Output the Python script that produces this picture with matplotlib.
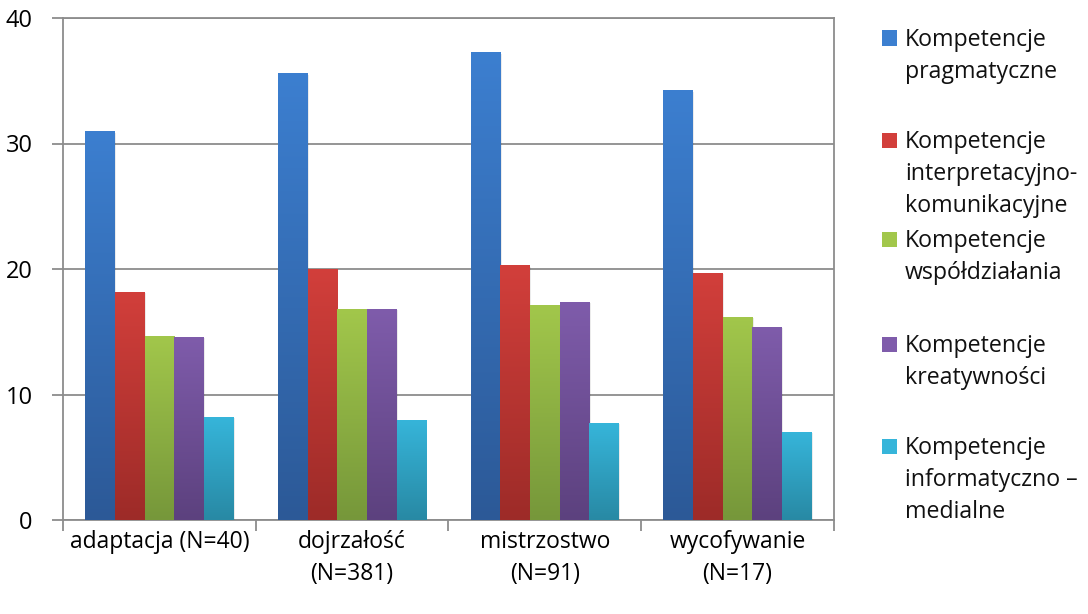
import numpy as np
import matplotlib
matplotlib.use("Agg")
import matplotlib.pyplot as plt
from matplotlib.patches import Rectangle
from matplotlib.colors import LinearSegmentedColormap

# Mean competence scores by career stage
categories = ["adaptacja (N=40)", "dojrzałość\n(N=381)", "mistrzostwo\n(N=91)", "wycofywanie\n(N=17)"]
series_names = [
    "Kompetencje\npragmatyczne",
    "Kompetencje\ninterpretacyjno-\nkomunikacyjne",
    "Kompetencje\nwspółdziałania",
    "Kompetencje\nkreatywności",
    "Kompetencje\ninformatyczno –\nmedialne",
]
pragmatyczne = [31.0, 35.6, 37.3, 34.3]
interpretacyjno = [18.2, 20.0, 20.3, 19.7]
wspoldzialania = [14.7, 16.8, 17.1, 16.2]
kreatywnosci = [14.6, 16.8, 17.4, 15.4]
informatyczno = [8.2, 8.0, 7.7, 7.0]
series_values = [pragmatyczne, interpretacyjno, wspoldzialania, kreatywnosci, informatyczno]
y_ticks = [0, 10, 20, 30, 40]

# (top colour, bottom colour) for each series gradient
gradients = [
    ("#3c7fd0", "#2c5997"),
    ("#d23f3b", "#9d2b28"),
    ("#a2c74b", "#76973a"),
    ("#7f5cab", "#5c417e"),
    ("#36b5da", "#2889a4"),
]

W, H = 1088, 614
plt.rcParams["font.family"] = ["Open Sans", "DejaVu Sans"]
fig = plt.figure(figsize=(W / 100, H / 100), dpi=100)
ax = fig.add_axes([63 / W, 1 - 520 / H, (834 - 63) / W, (520 - 18) / H])

n_series = len(series_values)
gap = 1.5
width = 1.0 / (n_series + gap)
x = np.arange(len(categories))

for i, (vals, (c_top, c_bot)) in enumerate(zip(series_values, gradients)):
    offs = (i - (n_series - 1) / 2) * width
    bars = ax.bar(x + offs, vals, width=width, color=c_top, linewidth=0, zorder=3)
    cmap = LinearSegmentedColormap.from_list(f"g{i}", [c_bot, c_top])
    grad = np.linspace(0, 1, 256).reshape(-1, 1)
    for b in bars:
        x0, w, h = b.get_x(), b.get_width(), b.get_height()
        # soft drop shadow to the right of each bar
        ax.add_patch(Rectangle((x0 + w * 0.04, 0), w, h * 0.995, facecolor="#000000",
                               alpha=0.08, linewidth=0, zorder=2))
        im = ax.imshow(grad, cmap=cmap, origin="lower", aspect="auto",
                       extent=(x0, x0 + w, 0, h), zorder=3.5, interpolation="bicubic")
        im.set_clip_path(b)

ax.set_xlim(-0.5, len(categories) - 0.5)
ax.set_ylim(0, 40)
ax.set_yticks(y_ticks)
ax.set_yticklabels([str(t) for t in y_ticks], fontsize=17)
ax.set_xticks(np.arange(len(categories) + 1) - 0.5)
ax.set_xticklabels([])
ax.set_xticks(x, minor=True)
ax.set_xticklabels(categories, minor=True, fontsize=16.5, linespacing=1.45)
ax.tick_params(axis="x", which="minor", length=0, pad=7)
ax.tick_params(axis="x", which="major", length=8, width=1.3, color="#8c8c8c", direction="out")
ax.tick_params(axis="y", length=8, width=1.3, color="#8c8c8c", direction="out", pad=14)

ax.grid(axis="y", color="#8c8c8c", linewidth=1.3, zorder=0)
ax.set_axisbelow(True)
for side, sp in ax.spines.items():
    sp.set_color("#8c8c8c")
    sp.set_linewidth(1.3)
    sp.set_zorder(1)

# Legend drawn as square markers with wrapped labels
legend_centers = [38, 140, 239, 344, 446]
sq = 15
for name, (c_top, c_bot), cy in zip(series_names, gradients, legend_centers):
    fig.patches.append(Rectangle((882 / W, 1 - (cy + sq / 2) / H), sq / W, sq / H,
                                 transform=fig.transFigure, facecolor=c_top,
                                 edgecolor="none"))
    fig.text(905 / W, 1 - (cy - 10) / H, name, fontsize=16.7, va="top", ha="left",
             linespacing=1.45, color="#111111")

fig.savefig("out.png", dpi=100)
